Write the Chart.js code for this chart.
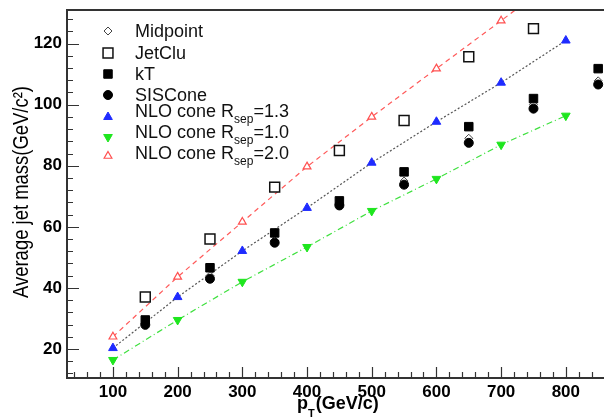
<!DOCTYPE html>
<html>
<head>
<meta charset="utf-8">
<script src="https://cdn.jsdelivr.net/npm/chart.js@4/dist/chart.umd.min.js"></script>
<style>
  html, body { margin: 0; padding: 0; background: #fff; overflow: hidden; }
  canvas { display: block; }
</style>
</head>
<body>
<canvas id="jetmass-chart" width="604" height="418"></canvas>
<script>
// pT bins (GeV/c)
var ptNLO = [100, 200, 300, 400, 500, 600, 700, 800];
var ptJet = [150, 250, 350, 450, 550, 650, 750, 850];
var ptJetClu = [150, 250, 350, 450, 550, 650, 750];

// average jet mass (GeV/c^2)
var midpoint = [28.5, 44, 55.5, 67.8, 75, 89, 100, 107.8];
var jetclu = [37, 56, 73, 85, 94.8, 115.7, 124.9];
var kt = [29.5, 46.6, 58, 68.5, 78, 92.8, 102, 111.8];
var siscone = [27.9, 43, 54.8, 67, 73.8, 87.5, 98.7, 106.6];
var nlo13 = [20.3, 37, 52.1, 66.2, 81, 94.4, 107.2, 121];
var nlo10 = [16.4, 29.5, 42, 53.4, 65.2, 75.7, 86.9, 96.4];
var nlo20 = [24, 43.6, 61.6, 79.7, 96, 111.8, 127.5, 143.5];

var xTickValues = [100, 200, 300, 400, 500, 600, 700, 800];
var yTickValues = [20, 40, 60, 80, 100, 120];

var FONT = "'Liberation Sans', Arial, Helvetica, sans-serif";

function pts(xs, ys) {
  return ys.map(function (y, i) {
    return { x: xs[i], y: y };
  });
}

var styles = {
  midpoint: { pointStyle: "rectRot", radius: 4, fill: "#fff", stroke: "#444", width: 1, rotation: 0 },
  jetclu: { pointStyle: "rect", radius: 7, fill: "#fff", stroke: "#111", width: 1.5, rotation: 0 },
  kt: { pointStyle: "rect", radius: 6, fill: "#000", stroke: "#000", width: 1, rotation: 0 },
  siscone: { pointStyle: "circle", radius: 4.5, fill: "#000", stroke: "#000", width: 1, rotation: 0 },
  nlo13: { pointStyle: "triangle", radius: 5, fill: "#1f2bff", stroke: "#1f2bff", width: 1, rotation: 0 },
  nlo10: { pointStyle: "triangle", radius: 5, fill: "#1ee61e", stroke: "#1ee61e", width: 1, rotation: 180 },
  nlo20: { pointStyle: "triangle", radius: 4.5, fill: "#fff", stroke: "#ff5050", width: 1.2, rotation: 0 },
};

function markerDataset(label, data, st, order, extra) {
  var ds = {
    label: label,
    data: data,
    order: order,
    showLine: false,
    pointStyle: st.pointStyle,
    pointRadius: st.radius,
    pointHoverRadius: st.radius,
    pointRotation: st.rotation,
    pointBackgroundColor: st.fill,
    pointBorderColor: st.stroke,
    pointBorderWidth: st.width,
  };
  for (var k in extra) ds[k] = extra[k];
  return ds;
}

var legendRows = [
  { key: "midpoint", text: "Midpoint", my: 31, by: 37 },
  { key: "jetclu", text: "JetClu", my: 53, by: 59 },
  { key: "kt", text: "kT", my: 74, by: 80 },
  { key: "siscone", text: "SISCone", my: 95, by: 101 },
  { key: "nlo13", text: "NLO cone R", sub: "sep", after: "=1.3", my: 117, by: 117 },
  { key: "nlo10", text: "NLO cone R", sub: "sep", after: "=1.0", my: 137, by: 138 },
  { key: "nlo20", text: "NLO cone R", sub: "sep", after: "=2.0", my: 156, by: 159 },
];

function noScalePadding(scale) {
  scale.paddingTop = 0;
  scale.paddingBottom = 0;
  scale.paddingLeft = 0;
  scale.paddingRight = 0;
}

// ROOT-like frame: inward ticks, legend box and axis titles
var rootFrame = {
  id: "rootFrame",
  afterDraw: function (chart) {
    var ctx = chart.ctx;
    var a = chart.chartArea;
    var xs = chart.scales.x;
    var ys = chart.scales.y;
    ctx.save();

    ctx.strokeStyle = "#333";
    ctx.lineWidth = 2;
    ctx.beginPath();
    ctx.moveTo(a.right + 4, a.top);
    ctx.lineTo(a.left, a.top);
    ctx.lineTo(a.left, a.bottom);
    ctx.lineTo(a.right + 4, a.bottom);
    ctx.stroke();

    ctx.lineWidth = 1.2;
    ctx.beginPath();
    for (var v = 40; v <= xs.max; v += 20) {
      var px = Math.round(xs.getPixelForValue(v)) + 0.5;
      var len = v % 100 === 0 ? 11 : 6;
      ctx.moveTo(px, a.bottom);
      ctx.lineTo(px, a.bottom - len);
    }
    for (var w = 12; w <= ys.max; w += 4) {
      var py = Math.round(ys.getPixelForValue(w)) + 0.5;
      var ylen = w % 20 === 0 ? 12 : 6;
      ctx.moveTo(a.left, py);
      ctx.lineTo(a.left + ylen, py);
    }
    ctx.stroke();

    // legend
    legendRows.forEach(function (row) {
      var st = styles[row.key];
      ctx.fillStyle = st.fill;
      ctx.strokeStyle = st.stroke;
      ctx.lineWidth = st.width;
      Chart.helpers.drawPoint(ctx, {
        pointStyle: st.pointStyle,
        radius: st.radius,
        rotation: st.rotation,
        borderWidth: st.width,
      }, 108, row.my);

      ctx.fillStyle = "#111";
      ctx.textAlign = "left";
      ctx.textBaseline = "alphabetic";
      ctx.font = "18px " + FONT;
      var x = 135;
      ctx.fillText(row.text, x, row.by);
      if (row.sub) {
        x += ctx.measureText(row.text).width;
        ctx.font = "12px " + FONT;
        ctx.fillText(row.sub, x, row.by + 6);
        x += ctx.measureText(row.sub).width;
        ctx.font = "18px " + FONT;
        ctx.fillText(row.after, x, row.by);
      }
    });

    // x title with subscript
    ctx.fillStyle = "#000";
    ctx.font = "bold 18px " + FONT;
    var tx = 297;
    ctx.fillText("p", tx, 409);
    tx += ctx.measureText("p").width;
    ctx.font = "bold 11px " + FONT;
    ctx.fillText("T", tx, 417);
    tx += ctx.measureText("T").width + 1;
    ctx.font = "bold 18px " + FONT;
    ctx.fillText("(GeV/c)", tx, 409);

    // y title, tall and narrow like the original
    var yTitle = "Average jet mass(GeV/c\u00b2)";
    ctx.font = "22px " + FONT;
    var squeeze = 212 / ctx.measureText(yTitle).width;
    ctx.translate(28, 192);
    ctx.rotate(-Math.PI / 2);
    ctx.scale(squeeze, 1);
    ctx.textAlign = "center";
    ctx.fillText(yTitle, 0, 0);

    ctx.restore();
  },
};

var ctx = document.getElementById("jetmass-chart").getContext("2d");

var chart = new Chart(ctx, {
  type: "scatter",
  data: {
    datasets: [
      markerDataset("JetClu", pts(ptJetClu, jetclu), styles.jetclu, 2),
      markerDataset("kT", pts(ptJet, kt), styles.kt, 3),
      markerDataset("SISCone", pts(ptJet, siscone), styles.siscone, 4),
      markerDataset("Midpoint", pts(ptJet, midpoint), styles.midpoint, 5),
      markerDataset("NLO cone Rsep=1.3", pts(ptNLO, nlo13), styles.nlo13, 6, {
        showLine: true,
        borderColor: "#555",
        borderWidth: 1.2,
        borderDash: [2, 2],
      }),
      markerDataset("NLO cone Rsep=1.0", pts(ptNLO, nlo10), styles.nlo10, 7, {
        showLine: true,
        borderColor: "#3fe03f",
        borderWidth: 1.2,
        borderDash: [6, 3, 1, 3],
      }),
      markerDataset("NLO cone Rsep=2.0", pts(ptNLO, nlo20), styles.nlo20, 8, {
        showLine: true,
        borderColor: "#ff5a5a",
        borderWidth: 1.2,
        borderDash: [5, 4],
      }),
    ],
  },
  options: {
    responsive: false,
    animation: false,
    devicePixelRatio: 1,
    layout: { autoPadding: false, padding: { top: 10, right: 0, left: 0, bottom: 0 } },
    plugins: {
      legend: { display: false },
      tooltip: { enabled: false },
    },
    scales: {
      x: {
        type: "linear",
        min: 29,
        max: 859,
        grid: { display: false, drawTicks: false },
        border: { display: false },
        afterBuildTicks: function (scale) {
          scale.ticks = xTickValues.map(function (v) { return { value: v }; });
        },
        afterFit: function (scale) {
          scale.height = 40;
          noScalePadding(scale);
        },
        ticks: {
          autoSkip: false,
          maxRotation: 0,
          padding: 4,
          color: "#000",
          font: { family: FONT, size: 17, weight: "bold" },
        },
      },
      y: {
        type: "linear",
        min: 10.5,
        max: 131,
        grid: { display: false, drawTicks: false },
        border: { display: false },
        afterBuildTicks: function (scale) {
          scale.ticks = yTickValues.map(function (v) { return { value: v }; });
        },
        afterFit: function (scale) {
          scale.width = 67;
          noScalePadding(scale);
        },
        ticks: {
          autoSkip: false,
          padding: 5,
          color: "#000",
          font: { family: FONT, size: 17, weight: "bold" },
        },
      },
    },
  },
  plugins: [rootFrame],
});
</script>
</body>
</html>
